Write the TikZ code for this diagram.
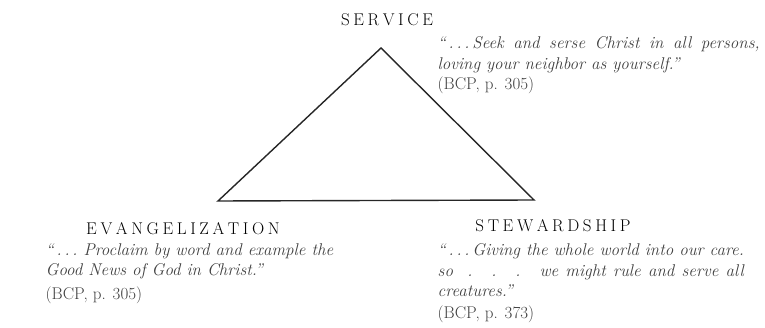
\documentclass[tikz,border=0pt]{standalone}
\usepackage{fontspec}
\usetikzlibrary{positioning}

\makeatletter
\newcommand\spreadout[1]{\@tfor\@ltr:=#1\do{\@ltr\kern3.6pt}\unkern}
\makeatother
\newsavebox\firstline

\tikzset{
  heading/.style={font=\fontsize{17}{20}\selectfont, text=black, inner sep=0pt},
  quote/.style={font=\fontsize{17}{20.5}\selectfont\itshape, text=black!75, align=left, inner sep=0pt, anchor=north west},
}

\begin{document}
\begin{tikzpicture}[x=1pt, y=-1pt, line width=1.4pt]
    \useasboundingbox (0,0) rectangle (765,328);
    \coordinate (svc) at (381,48);
    \coordinate (evg) at (218,201);
    \coordinate (stw) at (534,200);
    \draw[black!85, line join=miter] (svc) -- (evg) -- (stw) -- cycle;

    \node[heading] (svcname) at (387,20) {\spreadout{SERVICE}};
    \node[quote] (svcquote) at (437,36) {\makebox[322pt][s]{``\,.\,.\,.\,Seek and serse Christ in all persons,}\\
        loving your neighbor as yourself.''\\
        \upshape (BCP, p. 305)};

    \node[heading] (evgname) at (183,229) {\spreadout{EVANGELIZATION}};
    \node[quote] (evgquote) at (45,243) {``\,.\,.\,.\ Proclaim by word and example the\\
        Good News of God in Christ.''\\[3pt]
        \upshape (BCP, p. 305)};

    \node[heading] (stwname) at (553,226) {\spreadout{STEWARDSHIP}};
    \node[quote] (stwquote) at (437,243) {\global\setbox\firstline=\hbox{``\,.\,.\,.\,Giving the whole world into our care.}\usebox\firstline\\
        \makebox[\wd\firstline][s]{so \ . \ . \ . \ we might rule and serve all}\\
        creatures.''\\[1pt]
        \upshape (BCP, p. 373)};
\end{tikzpicture}
\end{document}
